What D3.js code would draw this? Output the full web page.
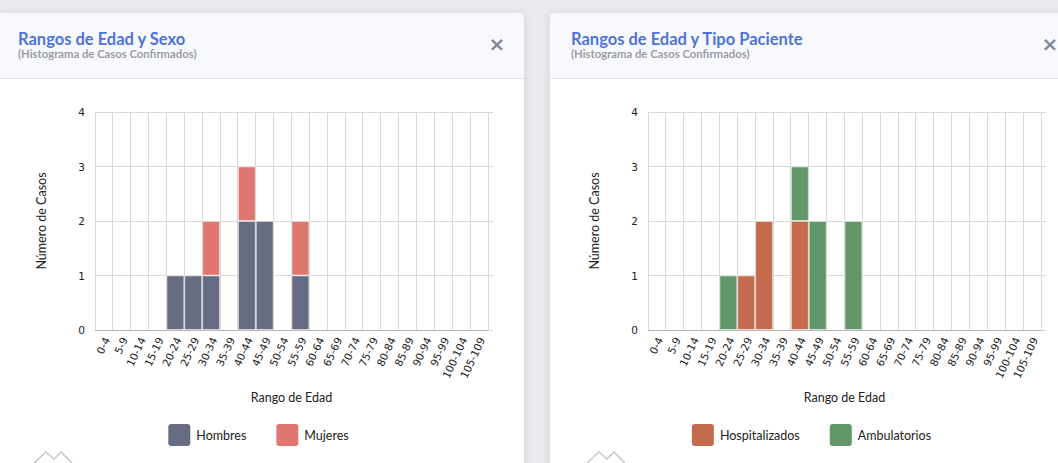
<!DOCTYPE html>
<html>
<head>
<meta charset="utf-8">
<script src="https://cdn.jsdelivr.net/npm/d3@7"></script>
<style>
  html, body { margin: 0; padding: 0; }
  body { width: 1058px; height: 463px; background: #e9eaef; overflow: hidden; position: relative; font-family: Lato, "Open Sans", sans-serif; }
  .card { position: absolute; top: 13px; height: 470px; background: #fff; border-radius: 5px;
          box-shadow: 0 2px 10px rgba(58,59,69,0.12); overflow: hidden; }
  .card .hdr { height: 65px; background: #f8f9fc; border-bottom: 1px solid #e3e6f0; }
  svg { position: absolute; left: 0; top: 0; }
</style>
</head>
<body>
<div class="card" style="left:-6px; width:530px;"><div class="hdr"></div></div>
<div class="card" style="left:550px; width:520px;"><div class="hdr"></div></div>
<svg id="chart" width="1058" height="463"></svg>
<script>
// ---- data ----
const categories = ["0-4","5-9","10-14","15-19","20-24","25-29","30-34","35-39","40-44","45-49","50-54","55-59","60-64","65-69","70-74","75-79","80-84","85-89","90-94","95-99","100-104","105-109"];
const hombres        = [0,0,0,0,1,1,1,0,2,2,0,1,0,0,0,0,0,0,0,0,0,0];
const mujeres        = [0,0,0,0,0,0,1,0,1,0,0,1,0,0,0,0,0,0,0,0,0,0];
const hospitalizados = [0,0,0,0,0,1,2,0,2,0,0,0,0,0,0,0,0,0,0,0,0,0];
const ambulatorios   = [0,0,0,0,1,0,0,0,1,2,0,2,0,0,0,0,0,0,0,0,0,0];
const yTicks = [0,1,2,3,4];

const charts = [
  { title: "Rangos de Edad y Sexo", subtitle: "(Histograma de Casos Confirmados)", dx: 0,
    series: [ {name: "Hombres", values: hombres, color: "#676c82"},
              {name: "Mujeres", values: mujeres, color: "#e07670"} ] },
  { title: "Rangos de Edad y Tipo Paciente", subtitle: "(Histograma de Casos Confirmados)", dx: 553,
    series: [ {name: "Hospitalizados", values: hospitalizados, color: "#c56a4c"},
              {name: "Ambulatorios", values: ambulatorios, color: "#629769"} ] }
];

const svg = d3.select("#chart");
const plot = { left: 95, right: 488, top: 112, bottom: 330 };

charts.forEach(ch => {
  const g = svg.append("g").attr("transform", `translate(${ch.dx},0)`);

  // header
  g.append("text").attr("x", 18).attr("y", 45).text(ch.title)
    .attr("font-family", "Lato, sans-serif").attr("font-weight", 700).attr("font-size", 16.5).attr("fill", "#4e73df");
  g.append("text").attr("x", 18).attr("y", 58).text(ch.subtitle)
    .attr("font-family", "Lato, sans-serif").attr("font-weight", 700).attr("font-size", 11.3).attr("fill", "#9b9ca8");
  g.append("text").attr("x", 497).attr("y", 51).text("×").attr("text-anchor", "middle")
    .attr("font-family", "DejaVu Sans, sans-serif").attr("font-weight", 700).attr("font-size", 20).attr("fill", "#858796");

  const x = d3.scaleBand().domain(categories).range([plot.left, plot.right]).padding(0);
  const y = d3.scaleLinear().domain([0, 4]).range([plot.bottom, plot.top]);

  // gridlines
  const grid = g.append("g");
  grid.selectAll("line.v").data(d3.range(categories.length + 1)).join("line")
    .attr("x1", i => plot.left + i * x.step()).attr("x2", i => plot.left + i * x.step())
    .attr("y1", plot.top).attr("y2", plot.bottom)
    .attr("stroke", "#d9d9d9").attr("stroke-width", 1).attr("shape-rendering", "crispEdges");
  grid.selectAll("line.h").data(yTicks).join("line")
    .attr("x1", plot.left).attr("x2", plot.right + 5)
    .attr("y1", d => y(d)).attr("y2", d => y(d))
    .attr("stroke", "#d9d9d9").attr("stroke-width", 1).attr("shape-rendering", "crispEdges");

  // stacked bars
  const stackData = categories.map((c, i) => {
    const o = { cat: c };
    ch.series.forEach(s => o[s.name] = s.values[i]);
    return o;
  });
  const stacked = d3.stack().keys(ch.series.map(s => s.name))(stackData);
  stacked.forEach((layer, li) => {
    g.append("g").selectAll("rect").data(layer.filter(d => d[1] > d[0])).join("rect")
      .attr("x", d => x(d.data.cat) + 0.5)
      .attr("width", x.bandwidth() - 1)
      .attr("y", d => y(d[1]) + 0.5)
      .attr("height", d => y(d[0]) - y(d[1]) - 1)
      .attr("fill", ch.series[li].color)
      .attr("stroke", "rgba(255,255,255,0.45)").attr("stroke-width", 1);
  });

  // bottom axis line
  g.append("line").attr("x1", plot.left).attr("x2", plot.right).attr("y1", plot.bottom).attr("y2", plot.bottom)
    .attr("stroke", "#b5b5b5").attr("stroke-width", 1).attr("shape-rendering", "crispEdges");

  // y ticks
  g.append("g").selectAll("text").data(yTicks).join("text")
    .attr("x", plot.left - 10).attr("y", d => y(d) + 4).attr("text-anchor", "end")
    .attr("font-family", "DejaVu Sans, Verdana, sans-serif").attr("font-size", 10.5).attr("fill", "#222")
    .text(d => d);

  // x tick labels
  g.append("g").selectAll("text").data(categories).join("text")
    .attr("transform", d => `translate(${x(d) + x.bandwidth() / 2 + 3},${plot.bottom + 8}) rotate(-65)`)
    .attr("text-anchor", "end").attr("dy", "0.35em")
    .attr("font-family", "DejaVu Sans, Verdana, sans-serif").attr("font-size", 10.5).attr("fill", "#222")
    .text(d => d);

  // axis titles
  g.append("text").attr("transform", `translate(46,${(plot.top + plot.bottom) / 2}) rotate(-90)`)
    .attr("text-anchor", "middle").attr("font-family", "Lato, sans-serif").attr("font-size", 12.5).attr("fill", "#222")
    .text("Número de Casos");
  g.append("text").attr("x", (plot.left + plot.right) / 2).attr("y", 402).attr("text-anchor", "middle")
    .attr("font-family", "Lato, sans-serif").attr("font-size", 12.5).attr("fill", "#222")
    .text("Rango de Edad");

  // legend
  const leg = g.append("g");
  const items = leg.selectAll("g").data(ch.series).join("g");
  items.append("rect").attr("width", 22).attr("height", 22).attr("rx", 3).attr("y", -11)
    .attr("fill", d => d.color);
  items.append("text").attr("x", 28).attr("y", 4.5).text(d => d.name)
    .attr("font-family", "Lato, sans-serif").attr("font-size", 12.5).attr("fill", "#222");
  let cx = 0;
  const widths = [];
  items.each(function () { widths.push(this.getBBox().width); });
  items.attr("transform", (d, i) => { const t = cx; cx += widths[i] + 30; return `translate(${t},0)`; });
  const total = cx - 30;
  leg.attr("transform", `translate(${258.5 - total / 2},435)`);

  // faint logo
  g.append("path").attr("d", "M34,463 L46,452 L54,459 L61,452 L72,463")
    .attr("fill", "none").attr("stroke", "#c8c8c8").attr("stroke-width", 1.5);
});
</script>
</body>
</html>
